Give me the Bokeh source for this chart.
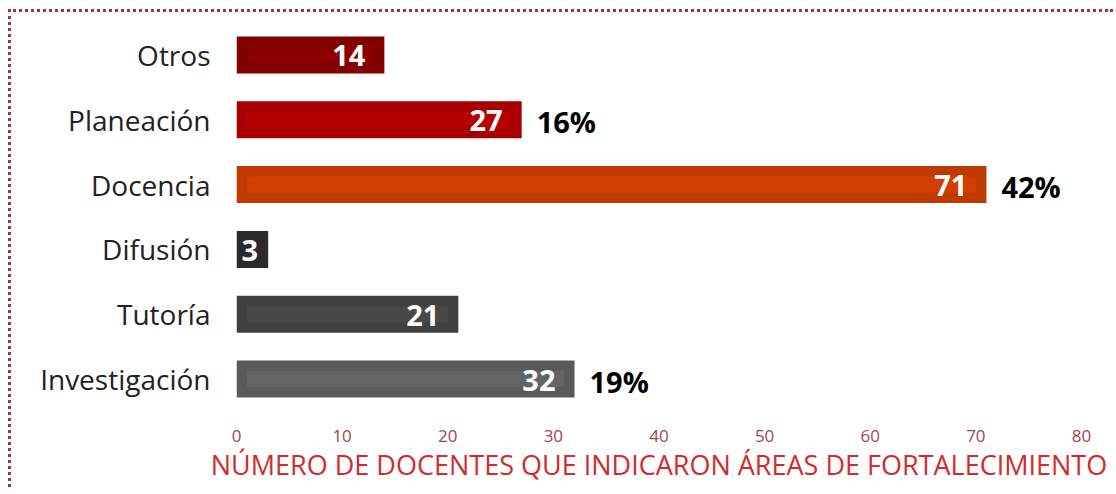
from bokeh.plotting import figure
from bokeh.models import ColumnDataSource, FactorRange, Range1d
from bokeh.core.properties import value
from bokeh.embed import file_html
from bokeh.resources import INLINE

categories = ["Otros", "Planeación", "Docencia", "Difusión", "Tutoría", "Investigación"]
counts = [14, 27, 71, 3, 21, 32]
percents = ["", "16%", "42%", "", "", "19%"]
bar_colors = ["#800000", "#a80000", "#c03a00", "#2b2b2b", "#404040", "#5a5a5a"]
inner_colors = ["#8a0000", "#b40000", "#d23d00", "#2b2b2b", "#484848", "#646464"]
x_ticks = [0, 10, 20, 30, 40, 50, 60, 70, 80]

src = ColumnDataSource(dict(
    cat=categories,
    n=counts,
    lab=[str(c) for c in counts],
    pct=percents,
    col=bar_colors,
    icol=inner_colors,
    inner_left=[1 if c > 5 else 0 for c in counts],
    inner_right=[c - 1 if c > 5 else 0 for c in counts],
    off=[-19 if c > 5 else -10 for c in counts],
))

p = figure(width=1105, height=478, output_backend="svg", toolbar_location=None,
           y_range=FactorRange(*reversed(categories), range_padding=0),
           x_range=Range1d(0, 80),
           min_border_left=225, min_border_right=35, min_border_top=10, min_border_bottom=79)
p.styles = {"border-top": "3px dotted #a8304e", "border-left": "3px dotted #a8304e",
            "margin-top": "9px", "margin-left": "8px"}

p.hbar(y="cat", left=0, right="n", height=0.57, color="col", line_color=None, source=src)
p.hbar(y="cat", left="inner_left", right="inner_right", height=0.25, color="icol",
       line_color=None, source=src)

p.text(x="n", y="cat", text="lab", source=src, text_align="right", text_baseline="middle",
       x_offset="off", y_offset=1, text_color="white", text_font=value("Open Sans"),
       text_font_style="bold", text_font_size="29px")
p.text(x="n", y="cat", text="pct", source=src, text_align="left", text_baseline="middle",
       x_offset=15, y_offset=2, text_color="black", text_font=value("Open Sans"),
       text_font_style="bold", text_font_size="29px")

p.xgrid.grid_line_color = None
p.ygrid.grid_line_color = None
p.outline_line_color = None

p.xaxis.ticker = x_ticks
p.xaxis.axis_line_color = None
p.xaxis.major_tick_line_color = None
p.xaxis.minor_tick_line_color = None
p.xaxis.major_label_text_color = "#a34350"
p.xaxis.major_label_text_font = "Open Sans"
p.xaxis.major_label_text_font_size = "17px"
p.xaxis.major_label_standoff = 12
p.xaxis.axis_label = "NÚMERO DE DOCENTES QUE INDICARON ÁREAS DE FORTALECIMIENTO"
p.xaxis.axis_label_text_color = "#d32a2f"
p.xaxis.axis_label_text_font = "Open Sans"
p.xaxis.axis_label_text_font_style = "normal"
p.xaxis.axis_label_text_font_size = "27px"
p.xaxis.axis_label_standoff = 1

p.yaxis.axis_line_color = None
p.yaxis.major_tick_line_color = None
p.yaxis.minor_tick_line_color = None
p.yaxis.major_tick_out = 0
p.yaxis.major_label_text_color = "#222222"
p.yaxis.major_label_text_font = "Open Sans"
p.yaxis.major_label_text_font_size = "28px"
p.yaxis.major_label_standoff = 26

open("out.html", "w").write(file_html(p, INLINE))
